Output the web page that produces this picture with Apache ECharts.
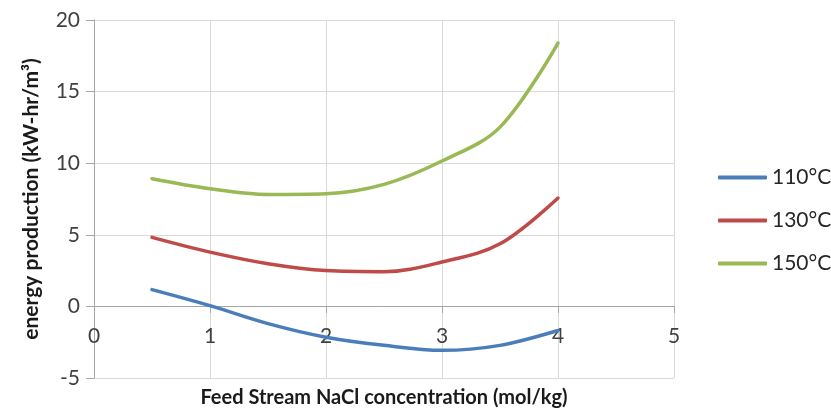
<!DOCTYPE html>
<html>
<head>
<meta charset="utf-8">
<script src="https://cdn.jsdelivr.net/npm/echarts@6/dist/echarts.min.js"></script>
<style>
html,body{margin:0;padding:0;background:#fff;}
#chart{width:831px;height:409px;}
</style>
</head>
<body>
<div id="chart"></div>
<script>
const concentration = [0.5, 1, 1.5, 2, 2.5, 3, 3.5, 4];
const t110 = [1.17, 0.05, -1.2, -2.15, -2.72, -3.07, -2.72, -1.68];
const t130 = [4.82, 3.79, 2.98, 2.5, 2.42, 3.1, 4.37, 7.57];
const t150 = [8.92, 8.22, 7.82, 7.87, 8.52, 10.15, 12.52, 18.39];
const seriesNames = ['110°C', '130°C', '150°C'];
const xTicks = [0, 1, 2, 3, 4, 5];
const yTicks = [-5, 0, 5, 10, 15, 20];

const colors = ['#4A7EBB', '#BE4B48', '#98B954'];
const FONT = 'Lato';

function pairs(ys) { return concentration.map((x, i) => [x, ys[i]]); }

const chart = echarts.init(document.getElementById('chart'), null, {renderer: 'canvas'});
chart.setOption({
  animation: false,
  backgroundColor: '#fff',
  grid: {left: 94, right: 157, top: 20, bottom: 31, containLabel: false, outerBoundsMode: 'none'},
  legend: {
    orient: 'vertical',
    left: 713,
    top: 162,
    itemWidth: 49,
    itemHeight: 4,
    itemGap: 22,
    icon: 'roundRect',
    data: seriesNames,
    textStyle: {fontFamily: FONT, fontSize: 21, color: '#262626'}
  },
  xAxis: {
    type: 'value',
    min: xTicks[0],
    max: xTicks[xTicks.length - 1],
    interval: 1,
    position: 'bottom',
    offset: -72,
    name: 'Feed Stream NaCl concentration (mol/kg)',
    nameLocation: 'middle',
    nameGap: 82,
    nameTextStyle: {fontFamily: FONT, fontSize: 20, fontWeight: 'bold', color: '#1a1a1a'},
    axisLine: {onZero: false, lineStyle: {color: '#a6a6a6', width: 1}},
    axisTick: {show: true, length: 7, lineStyle: {color: '#a6a6a6'}},
    axisLabel: {fontFamily: FONT, fontSize: 21, color: '#404040', margin: 20},
    splitLine: {show: true, lineStyle: {color: '#d9d9d9', width: 1}}
  },
  yAxis: {
    type: 'value',
    min: yTicks[0],
    max: yTicks[yTicks.length - 1],
    interval: 5,
    name: 'energy production (kW-hr/m³)',
    nameLocation: 'middle',
    nameGap: 52,
    nameTextStyle: {fontFamily: FONT, fontSize: 21, fontWeight: 'bold', color: '#1a1a1a'},
    axisLine: {show: true, onZero: false, lineStyle: {color: '#a6a6a6', width: 1}},
    axisTick: {show: true, length: 8, lineStyle: {color: '#a6a6a6'}},
    axisLabel: {fontFamily: FONT, fontSize: 21, color: '#404040', margin: 14},
    splitLine: {show: true, lineStyle: {color: '#d9d9d9', width: 1}}
  },
  series: [t110, t130, t150].map((ys, i) => ({
    name: seriesNames[i],
    type: 'line',
    data: pairs(ys),
    smooth: 0.35,
    showSymbol: false,
    symbol: 'none',
    color: colors[i],
    lineStyle: {width: 3.5, color: colors[i], cap: 'round'}
  }))
});
</script>
</body>
</html>
